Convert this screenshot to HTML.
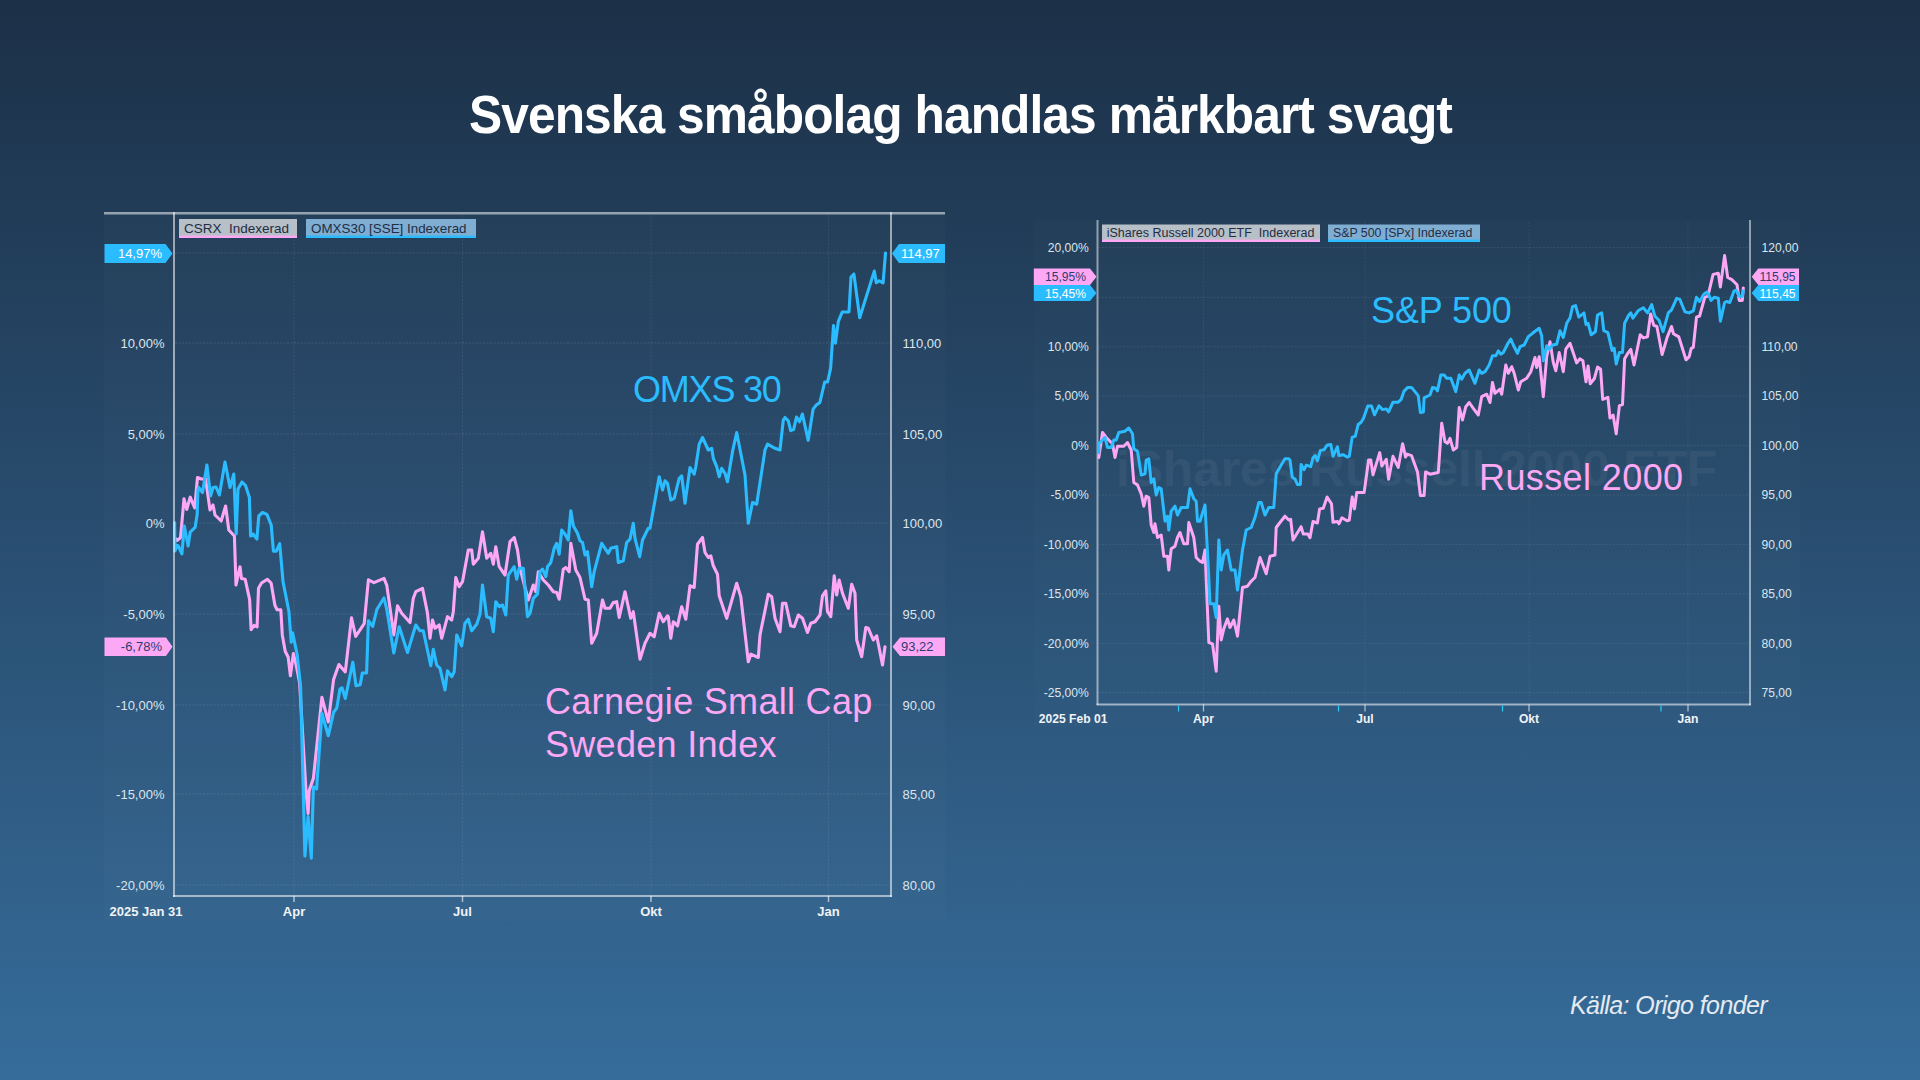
<!DOCTYPE html>
<html><head><meta charset="utf-8">
<style>
html,body{margin:0;padding:0;}
body{width:1920px;height:1080px;overflow:hidden;position:relative;
background:linear-gradient(180deg,#1c3047 0%,#366c9a 100%);font-family:"Liberation Sans", sans-serif;}
.t{position:absolute;white-space:pre;line-height:1;}
svg{position:absolute;left:0;top:0;}
svg text{font-family:"Liberation Sans", sans-serif;}
</style></head><body>
<svg width="1920" height="1080" viewBox="0 0 1920 1080" xml:space="preserve">
<rect x="104" y="212" width="841" height="709" fill="#ffffff" fill-opacity="0.015"/>
<line x1="175" y1="253" x2="890" y2="253" stroke="#ffffff" stroke-opacity="0.11" stroke-width="1" stroke-dasharray="2 1.5"/>
<line x1="175" y1="343" x2="890" y2="343" stroke="#ffffff" stroke-opacity="0.11" stroke-width="1" stroke-dasharray="2 1.5"/>
<line x1="175" y1="434" x2="890" y2="434" stroke="#ffffff" stroke-opacity="0.11" stroke-width="1" stroke-dasharray="2 1.5"/>
<line x1="175" y1="523" x2="890" y2="523" stroke="#ffffff" stroke-opacity="0.11" stroke-width="1" stroke-dasharray="2 1.5"/>
<line x1="175" y1="614" x2="890" y2="614" stroke="#ffffff" stroke-opacity="0.11" stroke-width="1" stroke-dasharray="2 1.5"/>
<line x1="175" y1="705" x2="890" y2="705" stroke="#ffffff" stroke-opacity="0.11" stroke-width="1" stroke-dasharray="2 1.5"/>
<line x1="175" y1="794" x2="890" y2="794" stroke="#ffffff" stroke-opacity="0.11" stroke-width="1" stroke-dasharray="2 1.5"/>
<line x1="175" y1="885" x2="890" y2="885" stroke="#ffffff" stroke-opacity="0.11" stroke-width="1" stroke-dasharray="2 1.5"/>
<line x1="294" y1="215" x2="294" y2="895" stroke="#ffffff" stroke-opacity="0.08" stroke-width="1" stroke-dasharray="2 1.5"/>
<line x1="462.5" y1="215" x2="462.5" y2="895" stroke="#ffffff" stroke-opacity="0.08" stroke-width="1" stroke-dasharray="2 1.5"/>
<line x1="651" y1="215" x2="651" y2="895" stroke="#ffffff" stroke-opacity="0.08" stroke-width="1" stroke-dasharray="2 1.5"/>
<line x1="828.5" y1="215" x2="828.5" y2="895" stroke="#ffffff" stroke-opacity="0.08" stroke-width="1" stroke-dasharray="2 1.5"/>
<line x1="104" y1="213.3" x2="945" y2="213.3" stroke="#ffffff" stroke-opacity="0.52" stroke-width="2.4"/>
<line x1="891" y1="212" x2="891" y2="897" stroke="#ffffff" stroke-opacity="0.55" stroke-width="2"/>
<line x1="173" y1="896" x2="892" y2="896" stroke="#ffffff" stroke-opacity="0.55" stroke-width="2"/>
<line x1="294" y1="896" x2="294" y2="902" stroke="#ffffff" stroke-opacity="0.6" stroke-width="1.5"/>
<line x1="462.5" y1="896" x2="462.5" y2="902" stroke="#ffffff" stroke-opacity="0.6" stroke-width="1.5"/>
<line x1="651" y1="896" x2="651" y2="902" stroke="#ffffff" stroke-opacity="0.6" stroke-width="1.5"/>
<line x1="828.5" y1="896" x2="828.5" y2="902" stroke="#ffffff" stroke-opacity="0.6" stroke-width="1.5"/>
<text x="164.5" y="347.6" text-anchor="end" font-size="13" fill="#dde5ec">10,00%</text>
<text x="902.5" y="347.6" font-size="13" fill="#dde5ec">110,00</text>
<text x="164.5" y="438.6" text-anchor="end" font-size="13" fill="#dde5ec">5,00%</text>
<text x="902.5" y="438.6" font-size="13" fill="#dde5ec">105,00</text>
<text x="164.5" y="527.6" text-anchor="end" font-size="13" fill="#dde5ec">0%</text>
<text x="902.5" y="527.6" font-size="13" fill="#dde5ec">100,00</text>
<text x="164.5" y="618.6" text-anchor="end" font-size="13" fill="#dde5ec">-5,00%</text>
<text x="902.5" y="618.6" font-size="13" fill="#dde5ec">95,00</text>
<text x="164.5" y="709.6" text-anchor="end" font-size="13" fill="#dde5ec">-10,00%</text>
<text x="902.5" y="709.6" font-size="13" fill="#dde5ec">90,00</text>
<text x="164.5" y="798.6" text-anchor="end" font-size="13" fill="#dde5ec">-15,00%</text>
<text x="902.5" y="798.6" font-size="13" fill="#dde5ec">85,00</text>
<text x="164.5" y="889.6" text-anchor="end" font-size="13" fill="#dde5ec">-20,00%</text>
<text x="902.5" y="889.6" font-size="13" fill="#dde5ec">80,00</text>
<text x="109.5" y="916" font-size="13" font-weight="bold" fill="#f0f3f6">2025 Jan 31</text>
<text x="294" y="916" text-anchor="middle" font-size="13" font-weight="bold" fill="#f0f3f6">Apr</text>
<text x="462.5" y="916" text-anchor="middle" font-size="13" font-weight="bold" fill="#f0f3f6">Jul</text>
<text x="651" y="916" text-anchor="middle" font-size="13" font-weight="bold" fill="#f0f3f6">Okt</text>
<text x="828.5" y="916" text-anchor="middle" font-size="13" font-weight="bold" fill="#f0f3f6">Jan</text>
<rect x="179" y="219" width="118" height="19" fill="#b7bfc7"/>
<rect x="179" y="235.5" width="118" height="2.5" fill="#fda8f4"/>
<text x="184" y="232.6" font-size="13.5" fill="#1f2d45">CSRX&#160; Indexerad</text>
<rect x="306" y="219" width="170" height="19" fill="#80aed2"/>
<rect x="306" y="235.5" width="170" height="2.5" fill="#2bbcff"/>
<text x="311" y="232.6" font-size="13.4" fill="#1f2d45">OMXS30 [SSE] Indexerad</text>
<polyline points="176.0,539.0 177.0,540.5 180.5,537.8 184.0,498.9 186.8,509.3 190.2,497.2 194.7,507.9 197.5,477.5 201.2,479.0 205.6,479.0 210.0,510.0 213.0,505.0 215.0,515.0 221.2,521.0 225.6,506.0 228.8,530.0 234.4,536.0 236.0,585.0 240.0,566.7 241.5,578.6 245.2,579.3 249.6,599.3 251.1,629.7 254.1,625.3 257.1,626.8 258.5,588.2 261.5,583.0 267.4,579.3 271.1,583.0 274.9,605.3 277.1,609.7 280.8,609.7 282.3,634.9 285.2,651.2 288.2,657.2 290.4,675.7 293.4,653.5 296.4,666.1 299.6,682.6 306.0,791.1 308.1,813.4 309.1,791.1 313.4,778.3 321.9,697.4 328.3,721.9 333.6,679.4 338.9,664.5 345.3,671.9 351.5,617.9 355.7,636.3 364.2,623.6 368.4,579.8 374.0,582.6 384.0,578.4 386.8,585.4 393.8,634.9 397.5,605.8 401.7,613.3 410.0,622.5 413.3,598.3 415.8,591.7 422.5,588.3 427.5,613.3 430.0,638.3 432.5,620.0 435.0,628.3 439.2,625.0 441.7,638.3 447.5,616.7 451.7,620.0 453.3,611.7 455.8,577.5 459.2,586.7 462.5,581.7 468.3,550.0 471.7,550.0 473.3,564.2 478.3,558.3 482.5,531.7 486.7,558.3 490.8,553.3 493.3,564.2 495.8,546.7 499.2,566.7 505.0,575.0 510.0,541.7 514.2,537.5 517.5,550.0 520.0,568.3 528.3,600.0 530.0,595.0 533.3,585.0 535.8,591.7 538.3,571.7 543.3,580.0 548.3,585.0 553.3,591.7 556.7,592.5 559.2,599.2 563.3,569.2 565.8,567.5 569.2,571.7 570.8,543.3 575.8,570.0 580.0,577.5 585.0,599.2 588.3,600.0 591.7,643.3 596.7,633.3 602.5,600.0 605.0,608.3 610.0,608.3 613.3,602.5 616.7,601.7 619.2,617.5 625.0,591.7 630.8,618.3 633.3,611.7 640.0,659.2 645.0,643.3 650.0,633.3 654.2,636.7 659.2,613.3 663.3,621.7 667.5,615.8 668.3,616.7 670.8,638.3 673.3,621.7 677.5,625.8 681.7,606.7 685.8,619.2 690.0,585.8 694.2,587.5 697.5,544.2 702.5,537.5 705.0,552.5 708.3,557.5 710.8,555.8 713.3,565.8 717.5,574.2 719.2,595.8 726.7,618.3 736.7,583.3 740.8,596.7 748.3,661.7 750.8,654.2 758.3,657.5 760.0,635.0 768.3,594.2 771.7,596.7 775.0,618.3 780.0,631.7 782.5,603.3 785.8,603.3 790.8,625.8 794.2,626.7 798.3,615.0 802.5,618.3 807.5,632.5 810.8,623.3 815.0,621.7 820.0,615.0 822.5,595.8 825.8,590.8 827.5,611.7 830.8,616.7 834.2,575.8 836.7,595.0 839.2,580.0 842.5,593.3 848.3,608.3 851.7,584.2 855.0,593.3 856.7,640.0 861.7,656.7 865.8,627.5 868.3,628.3 873.3,640.0 876.7,635.8 882.5,665.0 885.0,646.7" fill="none" stroke="#fda8f4" stroke-width="3.1" stroke-linejoin="round" stroke-linecap="round"/>
<polyline points="174.6,522.5 175.0,551.0 177.0,545.4 178.4,546.0 181.9,553.8 184.3,526.0 188.1,546.0 190.2,532.2 195.1,527.4 197.2,514.2 197.9,490.0 198.8,487.5 202.5,492.5 206.9,465.0 210.6,496.0 213.0,487.5 216.0,487.0 219.4,495.0 225.0,462.0 230.0,487.5 233.8,474.0 236.2,534.0 238.0,489.0 242.0,482.0 245.6,485.6 249.4,497.5 250.6,536.0 253.0,534.0 256.9,539.0 258.8,516.0 262.5,512.5 266.9,514.4 271.2,525.0 273.4,551.1 276.3,551.1 279.7,543.7 283.0,581.5 288.9,611.2 291.2,642.3 292.6,632.7 297.1,654.2 300.6,686.8 304.9,856.0 308.1,816.6 311.3,858.1 313.4,786.8 316.6,788.9 321.9,713.4 328.3,735.7 333.6,712.3 336.8,708.1 340.0,688.9 342.1,687.9 345.3,698.5 352.8,662.3 356.0,685.7 360.2,684.7 362.3,673.0 366.6,673.0 368.4,620.7 372.7,626.4 376.9,609.4 384.0,598.0 386.8,609.4 393.8,653.0 399.2,626.7 407.5,652.5 415.8,625.0 420.0,630.8 423.3,630.8 430.8,665.8 433.3,649.2 436.7,665.0 440.0,668.3 445.0,690.0 447.5,670.8 451.7,676.7 454.2,671.7 456.7,635.0 461.7,645.8 465.0,623.3 468.3,619.2 471.7,630.8 476.7,624.2 480.0,614.2 482.5,585.0 486.7,616.7 490.8,618.3 493.3,631.7 495.8,601.7 499.2,606.7 502.5,605.0 505.8,615.0 508.3,575.0 514.2,566.7 516.7,579.2 519.2,568.3 523.3,568.3 527.5,616.7 530.0,613.3 533.3,598.3 537.5,594.2 540.0,571.7 542.5,569.2 545.8,576.7 547.5,566.7 550.8,562.5 554.2,548.3 556.7,543.3 559.2,554.2 561.7,530.0 565.0,534.2 568.3,540.0 570.8,510.8 573.3,525.8 577.5,533.3 580.0,540.8 582.5,542.5 585.0,555.0 587.5,551.7 591.7,586.7 594.2,571.7 601.7,543.3 608.3,553.3 610.8,548.3 616.7,546.7 618.3,562.5 623.3,560.8 626.7,542.5 630.0,539.2 633.3,523.3 635.0,538.3 639.7,556.7 642.5,540.0 648.3,528.3 650.0,528.3 659.2,476.7 662.5,490.0 665.0,480.8 667.5,483.3 670.8,500.0 674.2,498.3 679.2,478.3 681.7,475.8 685.0,503.3 690.0,467.5 694.2,474.2 695.8,466.7 699.2,444.2 702.5,437.5 708.3,450.0 711.7,448.3 713.3,458.3 716.7,466.7 719.2,476.7 721.7,468.3 725.0,473.3 727.5,481.7 732.5,451.7 736.7,432.5 745.0,475.0 748.3,523.3 752.5,502.5 756.7,504.2 765.0,450.0 767.5,444.2 775.0,448.3 780.0,450.0 783.3,420.0 785.0,417.5 788.3,420.8 790.7,430.6 793.6,429.6 796.5,417.0 799.4,421.8 802.4,414.0 808.2,440.3 813.1,409.2 816.0,405.3 819.9,402.4 824.7,382.0 827.6,382.0 830.6,368.4 833.5,325.6 835.4,343.1 838.3,321.7 842.2,312.0 849.0,312.0 851.0,277.0 853.9,274.0 859.7,317.8 874.3,271.1 876.3,282.8 879.2,280.8 883.1,282.8 885.5,253.0" fill="none" stroke="#2bbcff" stroke-width="3.1" stroke-linejoin="round" stroke-linecap="round"/>
<line x1="174" y1="212" x2="174" y2="897" stroke="#ffffff" stroke-opacity="0.55" stroke-width="2"/>
<polygon points="104.5,244 165.5,244 172.5,253.5 165.5,263 104.5,263" fill="#2bbcff"/>
<text x="162" y="258.1" text-anchor="end" font-size="13" fill="#ffffff">14,97%</text>
<polygon points="892,253.5 899,244 945,244 945,263 899,263" fill="#2bbcff"/>
<text x="901" y="258.1" font-size="13" fill="#ffffff">114,97</text>
<polygon points="104.5,637.5 166,637.5 172.5,646.75 166,656 104.5,656" fill="#fda8f4"/>
<text x="162" y="651.35" text-anchor="end" font-size="13" fill="#2d3c6e">-6,78%</text>
<polygon points="892.5,646.75 900,637.5 945,637.5 945,656 900,656" fill="#fda8f4"/>
<text x="901" y="651.35" font-size="13" fill="#2d3c6e">93,22</text>
<rect x="1034" y="220" width="766" height="507" fill="#ffffff" fill-opacity="0.012"/>
<line x1="1098.5" y1="247.5" x2="1749" y2="247.5" stroke="#ffffff" stroke-opacity="0.085" stroke-width="1" stroke-dasharray="2 1.5"/>
<line x1="1098.5" y1="297.3" x2="1749" y2="297.3" stroke="#ffffff" stroke-opacity="0.085" stroke-width="1" stroke-dasharray="2 1.5"/>
<line x1="1098.5" y1="346.8" x2="1749" y2="346.8" stroke="#ffffff" stroke-opacity="0.085" stroke-width="1" stroke-dasharray="2 1.5"/>
<line x1="1098.5" y1="396.2" x2="1749" y2="396.2" stroke="#ffffff" stroke-opacity="0.085" stroke-width="1" stroke-dasharray="2 1.5"/>
<line x1="1098.5" y1="445.6" x2="1749" y2="445.6" stroke="#ffffff" stroke-opacity="0.085" stroke-width="1" stroke-dasharray="2 1.5"/>
<line x1="1098.5" y1="495" x2="1749" y2="495" stroke="#ffffff" stroke-opacity="0.085" stroke-width="1" stroke-dasharray="2 1.5"/>
<line x1="1098.5" y1="544.4" x2="1749" y2="544.4" stroke="#ffffff" stroke-opacity="0.085" stroke-width="1" stroke-dasharray="2 1.5"/>
<line x1="1098.5" y1="593.8" x2="1749" y2="593.8" stroke="#ffffff" stroke-opacity="0.085" stroke-width="1" stroke-dasharray="2 1.5"/>
<line x1="1098.5" y1="643.3" x2="1749" y2="643.3" stroke="#ffffff" stroke-opacity="0.085" stroke-width="1" stroke-dasharray="2 1.5"/>
<line x1="1098.5" y1="692.5" x2="1749" y2="692.5" stroke="#ffffff" stroke-opacity="0.085" stroke-width="1" stroke-dasharray="2 1.5"/>
<line x1="1203.5" y1="222" x2="1203.5" y2="703.5" stroke="#ffffff" stroke-opacity="0.065" stroke-width="1" stroke-dasharray="2 1.5"/>
<line x1="1365" y1="222" x2="1365" y2="703.5" stroke="#ffffff" stroke-opacity="0.065" stroke-width="1" stroke-dasharray="2 1.5"/>
<line x1="1529" y1="222" x2="1529" y2="703.5" stroke="#ffffff" stroke-opacity="0.065" stroke-width="1" stroke-dasharray="2 1.5"/>
<line x1="1688" y1="222" x2="1688" y2="703.5" stroke="#ffffff" stroke-opacity="0.065" stroke-width="1" stroke-dasharray="2 1.5"/>
<text x="1116" y="485.5" font-size="50" font-weight="bold" fill="#ffffff" fill-opacity="0.048" letter-spacing="-0.2">iShares Russell 2000 ETF</text>
<line x1="1097.5" y1="220" x2="1097.5" y2="705.0" stroke="#ffffff" stroke-opacity="0.5" stroke-width="2"/>
<line x1="1750" y1="220" x2="1750" y2="705.0" stroke="#ffffff" stroke-opacity="0.5" stroke-width="2"/>
<line x1="1096.5" y1="704.5" x2="1751" y2="704.5" stroke="#ffffff" stroke-opacity="0.55" stroke-width="2"/>
<line x1="1203.5" y1="704.5" x2="1203.5" y2="711.5" stroke="#ffffff" stroke-opacity="0.6" stroke-width="1.3"/>
<line x1="1365" y1="704.5" x2="1365" y2="711.5" stroke="#ffffff" stroke-opacity="0.6" stroke-width="1.3"/>
<line x1="1529" y1="704.5" x2="1529" y2="711.5" stroke="#ffffff" stroke-opacity="0.6" stroke-width="1.3"/>
<line x1="1688" y1="704.5" x2="1688" y2="711.5" stroke="#ffffff" stroke-opacity="0.6" stroke-width="1.3"/>
<line x1="1178.5" y1="705.5" x2="1178.5" y2="711.5" stroke="#22c8f0" stroke-width="1.3"/>
<line x1="1338.5" y1="705.5" x2="1338.5" y2="711.5" stroke="#22c8f0" stroke-width="1.3"/>
<line x1="1502.5" y1="705.5" x2="1502.5" y2="711.5" stroke="#22c8f0" stroke-width="1.3"/>
<line x1="1661" y1="705.5" x2="1661" y2="711.5" stroke="#22c8f0" stroke-width="1.3"/>
<text x="1088.8" y="251.7" text-anchor="end" font-size="12.1" fill="#dde5ec">20,00%</text>
<text x="1761.5" y="251.7" font-size="12.1" fill="#dde5ec">120,00</text>
<text x="1088.8" y="351.0" text-anchor="end" font-size="12.1" fill="#dde5ec">10,00%</text>
<text x="1761.5" y="351.0" font-size="12.1" fill="#dde5ec">110,00</text>
<text x="1088.8" y="400.4" text-anchor="end" font-size="12.1" fill="#dde5ec">5,00%</text>
<text x="1761.5" y="400.4" font-size="12.1" fill="#dde5ec">105,00</text>
<text x="1088.8" y="449.8" text-anchor="end" font-size="12.1" fill="#dde5ec">0%</text>
<text x="1761.5" y="449.8" font-size="12.1" fill="#dde5ec">100,00</text>
<text x="1088.8" y="499.2" text-anchor="end" font-size="12.1" fill="#dde5ec">-5,00%</text>
<text x="1761.5" y="499.2" font-size="12.1" fill="#dde5ec">95,00</text>
<text x="1088.8" y="548.6" text-anchor="end" font-size="12.1" fill="#dde5ec">-10,00%</text>
<text x="1761.5" y="548.6" font-size="12.1" fill="#dde5ec">90,00</text>
<text x="1088.8" y="598.0" text-anchor="end" font-size="12.1" fill="#dde5ec">-15,00%</text>
<text x="1761.5" y="598.0" font-size="12.1" fill="#dde5ec">85,00</text>
<text x="1088.8" y="647.5" text-anchor="end" font-size="12.1" fill="#dde5ec">-20,00%</text>
<text x="1761.5" y="647.5" font-size="12.1" fill="#dde5ec">80,00</text>
<text x="1088.8" y="696.7" text-anchor="end" font-size="12.1" fill="#dde5ec">-25,00%</text>
<text x="1761.5" y="696.7" font-size="12.1" fill="#dde5ec">75,00</text>
<text x="1038.8" y="723" font-size="12.1" font-weight="bold" fill="#f0f3f6">2025 Feb 01</text>
<text x="1203.5" y="723" text-anchor="middle" font-size="12.1" font-weight="bold" fill="#f0f3f6">Apr</text>
<text x="1365" y="723" text-anchor="middle" font-size="12.1" font-weight="bold" fill="#f0f3f6">Jul</text>
<text x="1529" y="723" text-anchor="middle" font-size="12.1" font-weight="bold" fill="#f0f3f6">Okt</text>
<text x="1688" y="723" text-anchor="middle" font-size="12.1" font-weight="bold" fill="#f0f3f6">Jan</text>
<rect x="1102" y="224.5" width="218" height="17.5" fill="#b7bfc7"/>
<rect x="1102" y="239.5" width="218" height="2.5" fill="#fda8f4"/>
<text x="1106.7" y="237" font-size="12.5" fill="#1f2d45">iShares Russell 2000 ETF&#160; Indexerad</text>
<rect x="1328" y="224.5" width="152" height="17.5" fill="#80aed2"/>
<rect x="1328" y="239.5" width="152" height="2.5" fill="#2bbcff"/>
<text x="1333" y="237" font-size="12.3" fill="#1f2d45">S&amp;P 500 [SPx] Indexerad</text>
<polyline points="1098.8,457.5 1102.5,432.5 1106.2,437.5 1110.0,441.2 1112.5,443.8 1115.0,457.5 1117.5,446.2 1123.8,446.2 1127.5,442.5 1131.2,450.0 1133.8,482.5 1137.5,485.0 1141.2,493.8 1143.8,506.2 1146.2,496.2 1148.8,497.5 1151.2,525.0 1153.8,532.5 1155.0,523.8 1157.5,537.5 1161.2,535.0 1163.8,556.2 1167.5,556.2 1168.8,570.0 1171.2,548.8 1175.0,546.2 1177.5,537.5 1180.0,532.5 1183.8,543.8 1187.5,543.8 1188.8,522.5 1193.8,537.5 1196.2,557.5 1200.0,561.2 1202.5,562.5 1205.0,550.0 1208.8,642.5 1212.5,643.8 1216.2,671.2 1218.8,606.2 1221.2,640.0 1223.8,628.8 1227.5,618.8 1230.0,627.5 1233.8,620.0 1237.5,636.2 1242.5,587.5 1247.5,586.2 1251.2,581.2 1255.0,577.5 1260.0,557.5 1266.2,573.8 1270.0,556.2 1275.0,555.0 1276.2,527.5 1280.0,522.5 1285.0,516.2 1288.8,520.0 1290.7,519.3 1293.0,540.0 1301.1,526.7 1303.3,534.1 1307.8,534.1 1310.0,537.8 1313.0,521.5 1317.4,523.0 1319.6,508.9 1323.3,508.2 1327.1,497.1 1331.5,503.8 1333.0,522.3 1337.4,521.5 1338.9,523.8 1341.9,517.8 1347.1,520.8 1349.3,520.1 1352.2,497.1 1354.5,508.9 1356.7,492.6 1364.1,492.6 1368.6,460.0 1370.8,460.0 1373.0,474.9 1379.7,452.6 1381.9,466.0 1386.3,459.3 1388.6,479.3 1393.0,456.3 1398.2,467.4 1402.6,443.7 1405.6,457.1 1407.1,454.1 1411.5,455.6 1417.5,471.9 1420.4,495.6 1424.1,495.6 1425.6,471.9 1430.0,474.2 1438.3,472.5 1441.7,423.3 1445.0,441.7 1447.5,443.3 1450.0,438.3 1453.3,450.0 1456.7,447.5 1459.2,407.5 1462.5,420.0 1465.8,406.7 1469.2,402.5 1473.3,408.3 1478.3,415.0 1481.7,396.7 1486.7,394.2 1490.0,402.5 1492.5,382.5 1495.0,393.3 1500.0,389.2 1501.7,394.2 1505.8,365.0 1508.3,373.3 1511.7,366.7 1514.2,373.3 1518.3,390.0 1520.8,381.7 1526.7,378.3 1530.8,371.7 1535.0,357.5 1536.7,367.5 1539.2,356.7 1543.3,396.7 1546.7,356.7 1550.0,341.7 1553.3,362.5 1555.8,370.8 1559.2,352.5 1563.3,371.7 1565.8,349.2 1570.0,343.3 1576.7,362.9 1579.8,358.8 1582.9,360.8 1586.0,381.7 1588.1,366.0 1590.2,383.8 1594.4,378.5 1597.5,367.1 1600.6,369.2 1602.7,399.4 1607.9,397.3 1610.0,418.1 1613.1,415.0 1616.2,433.8 1619.4,405.6 1622.5,404.6 1624.6,358.8 1627.7,353.5 1630.8,349.4 1634.0,365.0 1640.2,334.8 1643.3,337.9 1647.5,336.9 1650.6,314.0 1653.8,325.4 1656.9,326.5 1662.1,354.6 1667.3,336.9 1671.5,326.5 1673.5,333.8 1678.8,336.9 1686.0,359.8 1689.2,356.7 1691.2,348.3 1693.3,347.3 1696.5,317.1 1699.6,316.0 1704.8,297.3 1707.9,296.2 1713.1,274.4 1718.3,273.3 1720.4,286.9 1724.6,255.6 1727.7,277.5 1731.9,279.6 1734.0,281.7 1737.0,284.8 1739.2,300.4 1742.3,300.4 1743.3,287.9" fill="none" stroke="#fda8f4" stroke-width="3.0" stroke-linejoin="round" stroke-linecap="round"/>
<polyline points="1098.8,452.5 1098.8,443.8 1105.0,437.5 1107.5,447.5 1111.2,447.5 1113.8,440.0 1116.2,440.0 1118.8,432.5 1125.0,431.2 1128.8,428.0 1132.5,433.8 1133.8,448.8 1137.5,451.2 1141.2,475.0 1145.0,473.8 1146.2,460.0 1148.8,458.8 1151.2,482.5 1153.8,478.8 1156.2,495.0 1158.8,487.5 1161.2,488.8 1165.0,521.2 1167.5,516.2 1168.8,530.0 1171.2,511.2 1175.0,506.2 1177.5,515.0 1181.2,507.5 1187.5,507.5 1190.0,488.8 1193.8,498.8 1196.2,501.2 1197.5,521.2 1200.0,521.2 1205.0,505.0 1208.8,577.5 1210.0,603.8 1213.8,603.8 1216.2,617.5 1218.8,540.0 1221.2,570.0 1223.8,555.0 1227.5,550.0 1231.2,570.0 1235.0,570.0 1237.5,590.0 1242.5,550.0 1246.2,530.0 1251.2,527.5 1255.0,517.5 1258.8,502.5 1261.2,502.5 1265.0,515.0 1268.8,507.5 1273.8,507.5 1276.2,473.8 1281.2,465.0 1285.0,458.8 1288.8,458.8 1290.0,460.0 1292.2,477.1 1295.2,479.3 1297.4,484.5 1300.4,484.5 1301.1,464.5 1304.1,469.7 1306.3,465.2 1310.7,466.7 1313.0,457.8 1315.2,455.6 1317.4,460.8 1320.4,450.4 1324.1,449.7 1327.1,445.2 1330.8,444.5 1333.0,456.3 1337.4,446.7 1338.9,455.6 1343.4,454.8 1347.1,457.1 1349.3,456.3 1352.2,437.1 1355.2,436.3 1358.2,424.5 1361.1,422.2 1363.4,418.5 1367.8,405.9 1371.5,405.9 1374.5,414.8 1378.9,405.9 1382.6,409.6 1386.3,408.9 1388.6,411.9 1393.0,402.2 1398.2,402.2 1401.2,399.3 1404.1,391.1 1407.8,387.4 1411.5,387.4 1418.2,395.6 1420.4,412.6 1423.4,412.0 1424.1,397.8 1427.1,396.3 1430.0,395.0 1432.5,387.5 1435.8,388.3 1437.5,390.8 1440.8,375.0 1444.2,375.0 1446.7,378.3 1450.8,378.3 1455.8,391.7 1459.2,375.0 1461.7,379.2 1465.0,373.3 1469.2,370.0 1471.7,375.8 1475.0,383.3 1479.2,370.0 1481.7,373.3 1485.0,371.7 1489.2,365.0 1492.5,355.8 1495.8,355.8 1498.3,350.8 1500.8,354.2 1503.3,352.5 1507.5,344.2 1510.8,339.2 1513.3,345.0 1517.5,353.3 1520.0,346.7 1524.2,345.0 1528.3,336.7 1532.5,333.3 1535.8,330.8 1539.2,328.3 1541.7,335.8 1543.3,360.8 1546.7,345.8 1549.2,349.2 1552.5,345.0 1556.7,344.2 1560.0,330.8 1563.3,337.5 1566.7,323.3 1570.0,318.0 1572.5,306.7 1575.6,305.6 1578.8,317.1 1584.0,312.9 1586.0,324.4 1588.1,323.3 1591.2,334.8 1595.4,331.7 1597.5,315.0 1601.7,312.9 1603.8,330.6 1607.9,332.7 1612.1,350.4 1614.2,348.3 1616.2,364.0 1619.4,352.5 1622.5,352.5 1624.6,323.3 1628.8,315.0 1630.8,312.9 1632.9,318.1 1638.1,310.8 1643.3,307.7 1647.5,312.9 1651.7,304.6 1654.8,316.0 1659.0,320.2 1663.1,331.7 1668.3,312.9 1671.5,309.8 1676.7,298.3 1679.8,299.4 1685.0,311.9 1689.2,312.9 1693.3,310.8 1696.5,297.3 1699.6,301.5 1703.8,294.2 1706.9,292.1 1709.0,295.2 1711.0,300.4 1714.2,297.3 1718.3,298.3 1720.4,321.2 1724.6,302.5 1726.7,301.5 1729.8,302.5 1734.0,291.0 1736.0,290.0 1739.2,296.2 1742.3,296.2 1743.3,291.0" fill="none" stroke="#2bbcff" stroke-width="3.0" stroke-linejoin="round" stroke-linecap="round"/>
<polygon points="1033.8,268.5 1090,268.5 1096.5,276.75 1090,285 1033.8,285" fill="#fda8f4"/>
<text x="1086" y="281.35" text-anchor="end" font-size="12.1" fill="#2d3c6e">15,95%</text>
<polygon points="1033.8,285 1090,285 1096.5,293.0 1090,301 1033.8,301" fill="#2bbcff"/>
<text x="1086" y="297.6" text-anchor="end" font-size="12.1" fill="#ffffff">15,45%</text>
<polygon points="1751.7,276.75 1758.3,268.5 1799,268.5 1799,285 1758.3,285" fill="#fda8f4"/>
<text x="1759.5" y="281.35" font-size="12.1" fill="#2d3c6e">115,95</text>
<polygon points="1751.7,293.0 1758.3,285 1799,285 1799,301 1758.3,301" fill="#2bbcff"/>
<text x="1759.5" y="297.6" font-size="12.1" fill="#ffffff">115,45</text>
</svg>
<div class="t" id="title" style="left:469px;top:87px;font-size:54px;font-weight:bold;color:#ffffff;letter-spacing:-1px;transform:scaleX(0.92);transform-origin:0 0;">Svenska småbolag handlas märkbart svagt</div>
<div class="t" id="omx" style="left:633px;top:372px;font-size:36px;color:#2bbcff;letter-spacing:-1.2px;">OMXS 30</div>
<div class="t" id="csrx" style="left:545px;top:680px;font-size:36px;line-height:43px;color:#fda8f4;letter-spacing:0.3px;">Carnegie Small Cap
Sweden Index</div>
<div class="t" id="spx" style="left:1371px;top:293px;font-size:36px;color:#2bbcff;letter-spacing:-0.1px;">S&amp;P 500</div>
<div class="t" id="rut" style="left:1479px;top:460px;font-size:36px;color:#fda8f4;letter-spacing:0.4px;">Russel 2000</div>
<div class="t" id="src" style="left:1570px;top:993px;font-size:25px;font-style:italic;color:#e4eaf0;letter-spacing:-0.6px;">Källa: Origo fonder</div>
</body></html>
